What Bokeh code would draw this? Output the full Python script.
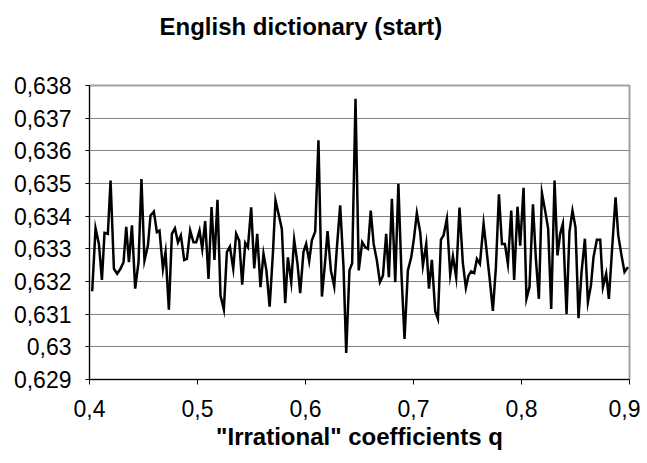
from bokeh.plotting import figure
from bokeh.models import FixedTicker, CustomJSTickFormatter, Range1d, Title
from bokeh.embed import file_html
from bokeh.resources import INLINE

title_text = "English dictionary (start)"
x_label = '"Irrational" coefficients q'

x_ticks = [0.4, 0.5, 0.6, 0.7, 0.8, 0.9]
x_tick_labels = ["0,4", "0,5", "0,6", "0,7", "0,8", "0,9"]
y_ticks = [0.629, 0.630, 0.631, 0.632, 0.633, 0.634, 0.635, 0.636, 0.637, 0.638]
y_tick_labels = ["0,629", "0,63", "0,631", "0,632", "0,633", "0,634", "0,635", "0,636", "0,637", "0,638"]

q = [0.4025, 0.4056, 0.4087, 0.4115, 0.4139, 0.4170, 0.4195, 0.4226, 0.4256, 0.4287,
     0.4315, 0.4340, 0.4365, 0.4393, 0.4423, 0.4454, 0.4481, 0.4509, 0.4541, 0.4565,
     0.4596, 0.4624, 0.4648, 0.4680, 0.4704, 0.4735, 0.4763, 0.4791, 0.4819, 0.4846,
     0.4877, 0.4902, 0.4932, 0.4963, 0.4988, 0.5019, 0.5044, 0.5071, 0.5102, 0.5130,
     0.5157, 0.5185, 0.5213, 0.5244, 0.5272, 0.5300, 0.5331, 0.5358, 0.5386, 0.5414,
     0.5442, 0.5467, 0.5497, 0.5525, 0.5553, 0.5583, 0.5611, 0.5638, 0.5668, 0.5698,
     0.5722, 0.5757, 0.5781, 0.5812, 0.5837, 0.5868, 0.5895, 0.5926, 0.5951, 0.5981,
     0.6006, 0.6034, 0.6059, 0.6090, 0.6120, 0.6152, 0.6180, 0.6204, 0.6235, 0.6266,
     0.6291, 0.6321, 0.6352, 0.6377, 0.6407, 0.6432, 0.6463, 0.6493, 0.6525, 0.6553,
     0.6578, 0.6604, 0.6631, 0.6661, 0.6689, 0.6717, 0.6747, 0.6772, 0.6800, 0.6831,
     0.6860, 0.6889, 0.6917, 0.6948, 0.6979, 0.7004, 0.7031, 0.7062, 0.7087, 0.7118,
     0.7143, 0.7170, 0.7201, 0.7226, 0.7254, 0.7278, 0.7309, 0.7340, 0.7365, 0.7395,
     0.7426, 0.7457, 0.7485, 0.7509, 0.7534, 0.7562, 0.7587, 0.7615, 0.7649, 0.7680,
     0.7707, 0.7735, 0.7763, 0.7791, 0.7819, 0.7846, 0.7874, 0.7905, 0.7932, 0.7963,
     0.7988, 0.8019, 0.8046, 0.8074, 0.8106, 0.8133, 0.8161, 0.8189, 0.8219, 0.8247,
     0.8275, 0.8306, 0.8333, 0.8358, 0.8383, 0.8417, 0.8444, 0.8472, 0.8500, 0.8528,
     0.8556, 0.8587, 0.8615, 0.8643, 0.8667, 0.8698, 0.8729, 0.8754, 0.8784, 0.8809,
     0.8840, 0.8871, 0.8896, 0.8926, 0.8954, 0.8985]

value_ratio = [0.63170, 0.63363, 0.63315, 0.63205, 0.63349, 0.63346, 0.63509, 0.63239, 0.63224, 0.63239,
               0.63259, 0.63367, 0.63259, 0.63372, 0.63178, 0.63259, 0.63514, 0.63264, 0.63310, 0.63402,
               0.63414, 0.63351, 0.63356, 0.63239, 0.63290, 0.63114, 0.63346, 0.63363, 0.63320, 0.63341,
               0.63266, 0.63269, 0.63356, 0.63320, 0.63320, 0.63356, 0.63300, 0.63385, 0.63208, 0.63428,
               0.63266, 0.63450, 0.63157, 0.63114, 0.63290, 0.63307, 0.63239, 0.63346, 0.63325, 0.63190,
               0.63318, 0.63305, 0.63427, 0.63240, 0.63346, 0.63183, 0.63285, 0.63234, 0.63123, 0.63285,
               0.63448, 0.63397, 0.63361, 0.63134, 0.63274, 0.63198, 0.63328, 0.63254, 0.63164, 0.63290,
               0.63315, 0.63262, 0.63326, 0.63353, 0.63632, 0.63154, 0.63254, 0.63354, 0.63234, 0.63185,
               0.63305, 0.63433, 0.63244, 0.62981, 0.63234, 0.63256, 0.63759, 0.63234, 0.63320, 0.63305,
               0.63300, 0.63417, 0.63315, 0.63264, 0.63198, 0.63218, 0.63346, 0.63213, 0.63453, 0.63198,
               0.63499, 0.63220, 0.63024, 0.63234, 0.63274, 0.63331, 0.63409, 0.63351, 0.63249, 0.63315,
               0.63178, 0.63266, 0.63109, 0.63086, 0.63328, 0.63341, 0.63392, 0.63221, 0.63277, 0.63213,
               0.63426, 0.63256, 0.63181, 0.63218, 0.63231, 0.63226, 0.63269, 0.63254, 0.63377, 0.63285,
               0.63203, 0.63110, 0.63244, 0.63467, 0.63315, 0.63315, 0.63254, 0.63417, 0.63205, 0.63429,
               0.63310, 0.63487, 0.63147, 0.63183, 0.63436, 0.63270, 0.63147, 0.63471, 0.63417, 0.63361,
               0.63116, 0.63509, 0.63280, 0.63346, 0.63377, 0.63101, 0.63351, 0.63417, 0.63366, 0.63088,
               0.63229, 0.63331, 0.63137, 0.63188, 0.63275, 0.63328, 0.63328, 0.63183, 0.63224, 0.63147,
               0.63305, 0.63458, 0.63341, 0.63280, 0.63229, 0.63244]

FONT = "Liberation Sans"

p = figure(width=640, height=459, output_backend="svg", toolbar_location=None,
           x_range=Range1d(0.4, 0.9), y_range=Range1d(0.629, 0.638),
           min_border_left=89, min_border_right=11, min_border_top=85, min_border_bottom=80,
           background_fill_color="white", border_fill_color="white")

p.line(q, value_ratio, line_color="black", line_width=2.5, line_join="miter")

# empty spacer panel between the plot area and the chart title
p.add_layout(Title(text=" ", text_font=FONT, text_font_size="10px", standoff=33), "above")

p.title.text = title_text
p.title.text_font = FONT
p.title.text_font_size = "24px"
p.title.text_font_style = "bold"
p.title.text_color = "black"
p.title.align = "left"
p.title.offset = 70
p.title.standoff = 0
p.title.vertical_align = "bottom"

p.outline_line_color = "#a0a0a0"
p.outline_line_width = 2

p.xgrid.visible = False
p.ygrid.ticker = FixedTicker(ticks=y_ticks)
p.ygrid.grid_line_color = "#808080"
p.ygrid.grid_line_width = 1

fmt_code = """
let best = 0, bd = 1e9;
for (let k = 0; k < tv.length; k++) {
  const d = Math.abs(tv[k] - tick);
  if (d < bd) { bd = d; best = k; }
}
return tl[best];
"""

xa = p.xaxis[0]
xa.ticker = FixedTicker(ticks=x_ticks)
xa.formatter = CustomJSTickFormatter(args=dict(tv=x_ticks, tl=x_tick_labels), code=fmt_code)
xa.axis_label = x_label
xa.axis_label_text_font = FONT
xa.axis_label_text_font_size = "24px"
xa.axis_label_text_font_style = "bold"
xa.axis_label_text_color = "black"
xa.axis_label_standoff = 3
xa.major_label_text_font = FONT
xa.major_label_text_font_size = "23px"
xa.major_label_text_color = "black"
xa.major_label_standoff = 15
xa.major_tick_in = 0
xa.major_tick_out = 5
xa.minor_tick_line_color = None
xa.axis_line_color = "black"
xa.major_tick_line_color = "black"

ya = p.yaxis[0]
ya.ticker = FixedTicker(ticks=y_ticks)
ya.formatter = CustomJSTickFormatter(args=dict(tv=y_ticks, tl=y_tick_labels), code=fmt_code)
ya.major_label_text_font = FONT
ya.major_label_text_font_size = "23px"
ya.major_label_text_color = "black"
ya.major_label_standoff = 14
ya.major_tick_in = 0
ya.major_tick_out = 4
ya.minor_tick_line_color = None
ya.axis_line_color = "black"
ya.major_tick_line_color = "black"

open("out.html", "w").write(file_html(p, INLINE))
